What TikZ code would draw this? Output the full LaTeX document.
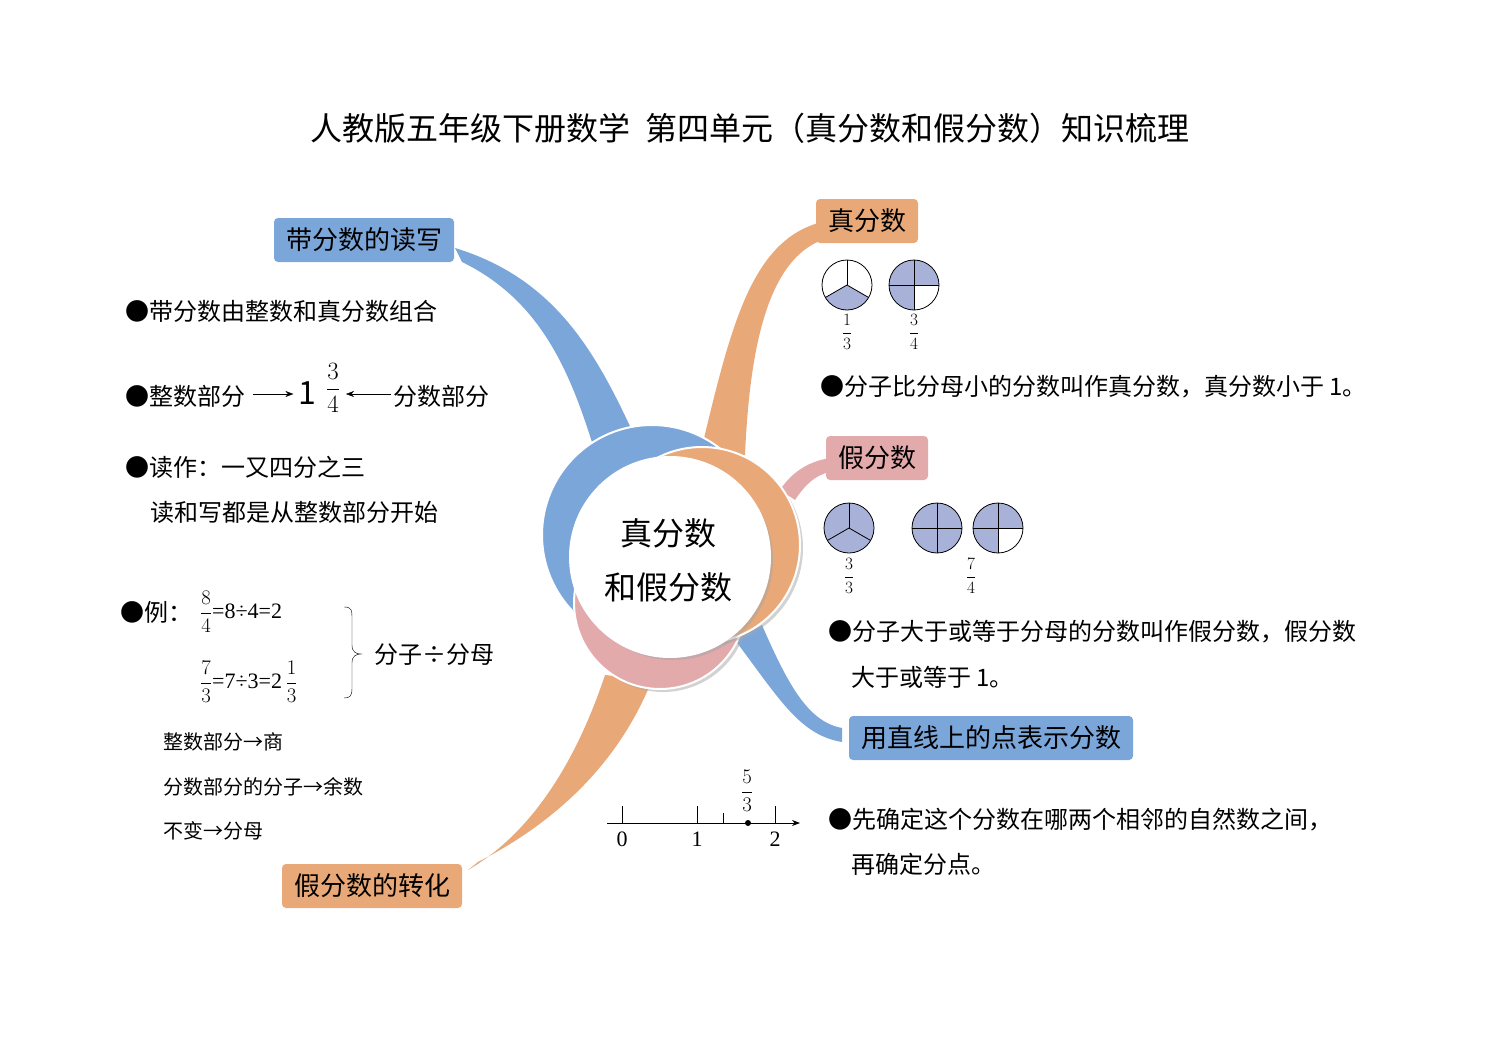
\documentclass[tikz,border=0pt]{standalone}
\usepackage{fontspec}
\setmainfont{Liberation Serif}
\newfontfamily\cjk{Noto Sans CJK SC}
\usetikzlibrary{positioning,shadows,arrows.meta}
\definecolor{bblue}{HTML}{7BA6DA}
\definecolor{borange}{HTML}{E9A877}
\definecolor{bpink}{HTML}{E3AAAC}
\definecolor{pief}{HTML}{A8B2D8}
\def\pier{25}
% pie with three parts, shaded from angle #3 to #4
\newcommand{\thirdpie}[4]{
    \fill[pief] (#1,#2) -- ++(#3:\pier) arc[start angle=#3,end angle=#4,radius=\pier] -- cycle;
    \draw[thick] (#1,#2) circle[radius=\pier];
    \foreach \a in {270,30,150}
        \draw[thick] (#1,#2) -- ++(\a:\pier);
}
\newcommand{\quarterpie}[4]{
    \fill[pief] (#1,#2) -- ++(#3:\pier) arc[start angle=#3,end angle=#4,radius=\pier] -- cycle;
    \draw[thick] (#1,#2) circle[radius=\pier];
    \draw[thick] (#1,#2) ++(-\pier,0) -- ++(2*\pier,0);
    \draw[thick] (#1,#2) ++(0,-\pier) -- ++(0,2*\pier);
}
\newcommand{\fr}[3]{{\fontsize{#1}{#1}\selectfont$\displaystyle\frac{#2}{#3}$}}
\begin{document}
\begin{tikzpicture}[x=1pt,y=-1pt,font=\cjk\fontsize{24}{26}\selectfont]
    \tikzstyle{label box}=[rounded corners=4pt,minimum height=44pt,inner xsep=12pt,font=\cjk\fontsize{26}{28}\selectfont]
    \tikzstyle{txt}=[anchor=west,inner sep=0pt]
    \tikzstyle{small}=[anchor=west,inner sep=0pt,font=\cjk\fontsize{20}{22}\selectfont]
    \tikzstyle{ring}=[draw=white,line width=2pt,drop shadow={shadow xshift=3pt,shadow yshift=-3pt,fill=black!35}]
    \useasboundingbox (0,0) rectangle (1500,1060);

    \node (title) at (750,128) {\fontsize{32}{34}\selectfont 人教版五年级下册数学\ \ 第四单元（真分数和假分数）知识梳理};

    % Draw the branches
    \fill[bblue] (455,248) .. controls (560,280) and (600,360) .. (640,448) -- (595,452) .. controls (570,370) and (540,300) .. (462,262) -- cycle;
    \fill[borange] (822,222) .. controls (750,240) and (730,330) .. (700,455) -- (745,455) .. controls (750,340) and (770,260) .. (822,240) -- cycle;
    \fill[bpink] (830,458) .. controls (805,462) and (790,475) .. (780,490) -- (795,500) .. controls (805,485) and (815,475) .. (830,472) -- cycle;
    \fill[bblue] (735,640) .. controls (780,700) and (800,735) .. (842,742) -- (842,728) .. controls (810,722) and (790,690) .. (762,625) -- cycle;
    \fill[borange] (605,675) .. controls (570,780) and (520,840) .. (468,870) -- (478,862) .. controls (560,820) and (620,760) .. (652,680) -- cycle;

    % Draw the centre rings
    \fill[bblue,ring] (652,535) circle[radius=110];
    \fill[bpink,ring] (660,603) circle[radius=86];
    \fill[borange,ring] (702,545) circle[radius=98];
    \node[circle,fill=white,minimum size=200pt,ring] (centre) at (670,557) {};
    \node[align=center,font=\cjk\fontsize{32}{54}\selectfont] (ctext) at (668,560) {真分数\\和假分数};

    % Draw the label boxes
    \node[label box,fill=bblue] (mixed) at (364,240) {带分数的读写};
    \node[label box,fill=borange] (proper) at (867,221) {真分数};
    \node[label box,fill=bpink] (improper) at (877,458) {假分数};
    \node[label box,fill=bblue] (line) at (991,738) {用直线上的点表示分数};
    \node[label box,fill=borange] (convert) at (372,886) {假分数的转化};

    % Mixed numbers
    \node[txt] (m1) at (125,311) {●带分数由整数和真分数组合};
    \node[txt] (m2) at (125,396) {●整数部分};
    \node[inner sep=0pt] (mnum) at (307,393) {\fontsize{32}{32}\selectfont 1};
    \node[inner sep=0pt] (mfrac) at (333,388) {\fr{24}{3}{4}};
    \node[txt] (m3) at (393,396) {分数部分};
    \draw[-{Stealth[length=8pt]}] (m2.east) ++(8,-2) -- ++(40,0);
    \draw[-{Stealth[length=8pt]}] (m3.west) ++(-2,-2) -- ++(-45,0);
    \node[txt] (m4) at (125,467) {●读作：一又四分之三};
    \node[txt] (m5) at (150,512) {读和写都是从整数部分开始};

    % Converting
    \node[txt] (c1) at (120,612) {●例：};
    \node[txt,font=\fontsize{22}{24}\selectfont] (c2) at (200,612) {\fr{20}{8}{4}=8÷4=2};
    \node[txt,font=\fontsize{22}{24}\selectfont] (c3) at (200,682) {\fr{20}{7}{3}=7÷3=2\,\fr{20}{1}{3}};
    \draw (344,607) .. controls (352,607) and (352,610) .. (352,620) -- (352,645) .. controls (352,652) and (356,654) .. (361,654) .. controls (356,654) and (352,656) .. (352,663) -- (352,688) .. controls (352,696) and (350,698) .. (344,698);
    \node[txt] (c4) at (374,655) {分子÷分母};
    \node[small] (c5) at (163,742) {整数部分→商};
    \node[small] (c6) at (163,787) {分数部分的分子→余数};
    \node[small] (c7) at (163,831) {不变→分母};

    % Proper fractions
    \thirdpie{847}{285}{30}{150}
    \quarterpie{914}{285}{90}{360}
    \node (pf1) at (847,332) {\fr{18}{1}{3}};
    \node (pf2) at (914,332) {\fr{18}{3}{4}};
    \node[txt] (p1) at (820,387) {●分子比分母小的分数叫作真分数，真分数小于 1。};

    % Improper fractions
    \thirdpie{849}{528}{0}{360}
    \quarterpie{937}{528}{0}{360}
    \quarterpie{998}{528}{90}{360}
    \node (if1) at (849,576) {\fr{18}{3}{3}};
    \node (if2) at (971,576) {\fr{18}{7}{4}};
    \node[txt] (i1) at (828,632) {●分子大于或等于分母的分数叫作假分数，假分数};
    \node[txt] (i2) at (851,677) {大于或等于 1。};

    % Number line
    \coordinate (nl0) at (607,823);
    \coordinate (nl1) at (800,823);
    \draw[thick,-{Stealth[length=8pt]}] (nl0) -- (nl1);
    \foreach \x/\t in {622/0,697/1,775/2} {
        \draw[thick] (\x,823) -- (\x,806);
        \node[font=\fontsize{22}{22}\selectfont] at (\x,839) {\t};
    }
    \draw[thick] (723,823) -- (723,813);
    \fill (748,823) circle[radius=3];
    \node (nf) at (747,791) {\fr{20}{5}{3}};
    \node[txt] (l1) at (828,820) {●先确定这个分数在哪两个相邻的自然数之间，};
    \node[txt] (l2) at (851,864) {再确定分点。};
\end{tikzpicture}
\end{document}
